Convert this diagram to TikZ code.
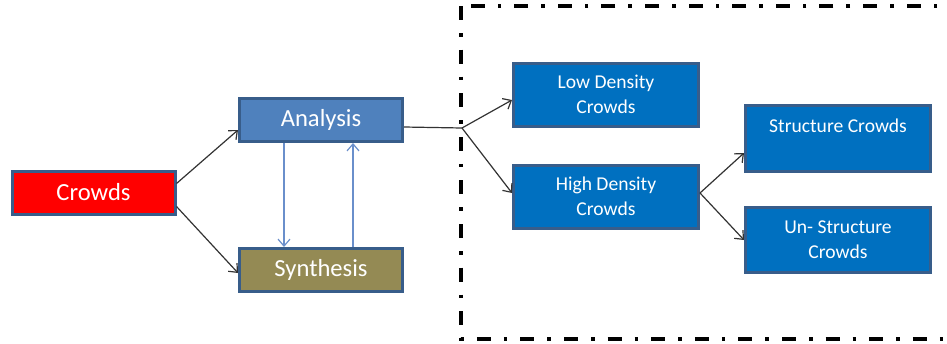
\documentclass[tikz,border=0pt]{standalone}
\usepackage{fontspec}
\setmainfont{Carlito}
\usetikzlibrary{arrows.meta}
\definecolor{rimblue}{HTML}{385D8A}
\definecolor{anablue}{HTML}{4F81BD}
\definecolor{synolive}{HTML}{948A54}
\definecolor{boxblue}{HTML}{0070C0}
\definecolor{linkblue}{HTML}{6A8FCB}
\begin{document}
\begin{tikzpicture}[x=0.5pt,y=-0.5pt,
    box/.style={draw=rimblue, line width=1.5pt, inner sep=0pt, text=white,
        minimum width=81.5pt, minimum height=21.5pt, font=\fontsize{12.3}{14}\selectfont},
    rbox/.style={box, fill=boxblue, minimum width=92.5pt, minimum height=31.5pt,
        align=center, font=\fontsize{9.8}{12.5}\selectfont},
    link/.style={-{Straight Barb[length=3.5pt,width=6pt]}, line width=0.6pt, black!80},
    bluelink/.style={link, linkblue}]
    \useasboundingbox (0,0) rectangle (947,343);
    % frame round the crowd types
    \draw[line width=1.9pt, dash pattern=on 7pt off 6.5pt on 1.8pt off 6.5pt] (461,6) rectangle (990,339);
    % left part
    \node[box, fill=red] (crowds) at (93.5,192.5) {Crowds};
    \node[box, fill=anablue] (analysis) at (321,120) {Analysis};
    \node[box, fill=synolive] (synthesis) at (321,270) {Synthesis};
    % right part
    \node[rbox] (low) at (606,94.5) {Low Density\\Crowds};
    \node[rbox] (high) at (606,196.5) {High Density\\Crowds};
    \node[rbox, minimum height=33pt] (struct) at (838,138.5) {Structure Crowds\\\mbox{}};
    \node[rbox, minimum height=32.5pt] (unstruct) at (838,240) {Un- Structure\\Crowds};
    \coordinate (split) at (462,128);
    \draw[link] ([yshift=4.5pt]crowds.east) -- ([yshift=-5pt]analysis.west);
    \draw[link] ([yshift=-7pt]crowds.east) -- ([yshift=-1.5pt]synthesis.west);
    \draw[bluelink] ([xshift=-18.5pt]analysis.south) -- ([xshift=-18.5pt]synthesis.north);
    \draw[bluelink] ([xshift=16pt]synthesis.north) -- ([xshift=16pt]analysis.south);
    \draw[line width=0.6pt, black!80] ([yshift=-3.5pt]analysis.east) -- (split);
    \draw[link] (split) -- ([yshift=-2.75pt]low.west);
    \draw[link] (split) -- ([yshift=1.75pt]high.west);
    \draw[link] ([yshift=1.75pt]high.east) -- ([yshift=-7.25pt]struct.west);
    \draw[link] ([yshift=1.75pt]high.east) -- (unstruct.west);
\end{tikzpicture}
\end{document}
